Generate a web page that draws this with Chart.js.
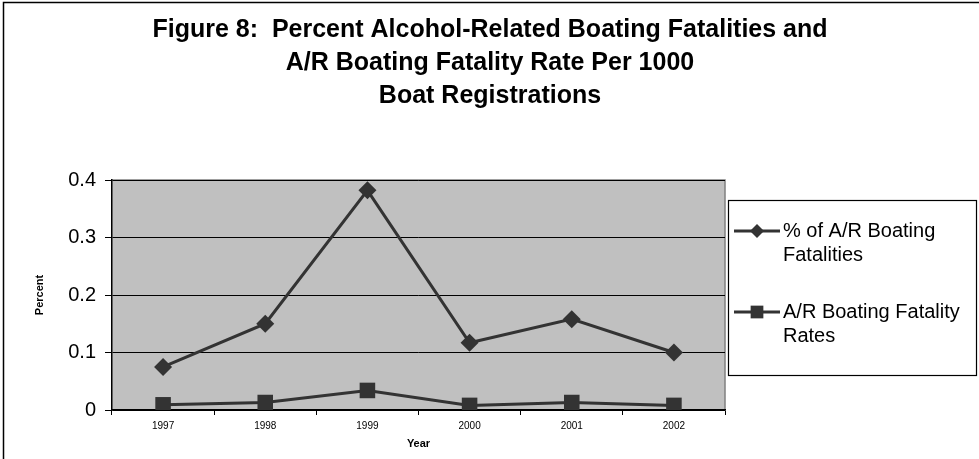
<!DOCTYPE html>
<html>
<head>
<meta charset="utf-8">
<script src="https://cdn.jsdelivr.net/npm/chart.js@4.4.0/dist/chart.umd.min.js"></script>
<style>
  html, body { margin: 0; padding: 0; background: #fff; }
  #wrap { width: 979px; height: 459px; }
</style>
</head>
<body>
<div id="wrap"><canvas id="boatingChart" width="979" height="459"></canvas></div>
<script>
const years = ['1997', '1998', '1999', '2000', '2001', '2002'];
const pctFatalities = [0.075, 0.15, 0.382, 0.117, 0.158, 0.1];
const fatalityRates = [0.009, 0.013, 0.034, 0.008, 0.013, 0.008];
const yMin = 0;
const yMax = 0.4;
const yStep = 0.1;
const titleLines = [
  'Figure 8:  Percent Alcohol-Related Boating Fatalities and',
  'A/R Boating Fatality Rate Per 1000',
  'Boat Registrations'
];
const seriesNames = [['% of A/R Boating', 'Fatalities'], ['A/R Boating Fatality', 'Rates']];

const FONT = '"Liberation Sans", Arial, sans-serif';
const INK = '#333333';

// background, outer frame, gray plot area, title and boxed legend
const framePlugin = {
  id: 'frame',
  beforeDraw(chart) {
    const { ctx, chartArea: a } = chart;
    ctx.save();
    ctx.fillStyle = '#fff';
    ctx.fillRect(0, 0, chart.width, chart.height);
    ctx.strokeStyle = '#000';
    ctx.lineWidth = 1.5;
    ctx.beginPath();
    ctx.moveTo(3.5, chart.height);
    ctx.lineTo(3.5, 2.5);
    ctx.lineTo(chart.width, 2.5);
    ctx.stroke();
    ctx.fillStyle = '#c0c0c0';
    ctx.fillRect(a.left, a.top, a.right - a.left, a.bottom - a.top);
    ctx.strokeStyle = '#808080';
    ctx.lineWidth = 1.5;
    ctx.beginPath();
    ctx.moveTo(a.left, a.top);
    ctx.lineTo(a.right, a.top);
    ctx.lineTo(a.right, a.bottom);
    ctx.stroke();
    ctx.restore();
  },
  afterDraw(chart) {
    const { ctx } = chart;
    ctx.save();
    ctx.fillStyle = '#000';
    ctx.textAlign = 'center';
    ctx.textBaseline = 'middle';
    ctx.font = 'bold 25px ' + FONT;
    titleLines.forEach((t, i) => ctx.fillText(t, 490, 30 + i * 33));

    // legend box
    const box = { x: 728.5, y: 200.5, w: 248, h: 175 };
    ctx.strokeStyle = '#000';
    ctx.lineWidth = 1.2;
    ctx.strokeRect(box.x, box.y, box.w, box.h);
    ctx.font = '20px ' + FONT;
    ctx.textAlign = 'left';
    chart.data.datasets.forEach((ds, i) => {
      const y = 231 + i * 81;
      ctx.strokeStyle = ds.borderColor;
      ctx.lineWidth = ds.borderWidth;
      ctx.beginPath();
      ctx.moveTo(734, y);
      ctx.lineTo(780, y);
      ctx.stroke();
      ctx.fillStyle = ds.pointBackgroundColor;
      Chart.helpers.drawPoint(ctx, {
        pointStyle: ds.pointStyle,
        radius: ds.legendRadius,
        rotation: 0,
        borderWidth: 0
      }, 757, y);
      ctx.fillStyle = '#000';
      seriesNames[i].forEach((line, j) => ctx.fillText(line, 783, y + j * 24));
    });
    ctx.restore();
  }
};

new Chart(document.getElementById('boatingChart'), {
  type: 'line',
  data: {
    labels: years,
    datasets: [
      {
        label: seriesNames[0].join(' '),
        data: pctFatalities,
        borderColor: INK,
        borderWidth: 3,
        pointStyle: 'rectRot',
        pointRadius: 9,
        legendRadius: 7,
        pointBackgroundColor: INK,
        pointBorderColor: INK,
        pointBorderWidth: 0,
        tension: 0
      },
      {
        label: seriesNames[1].join(' '),
        data: fatalityRates,
        borderColor: INK,
        borderWidth: 3,
        pointStyle: 'rect',
        pointRadius: 11,
        legendRadius: 9,
        pointBackgroundColor: INK,
        pointBorderColor: INK,
        pointBorderWidth: 0,
        tension: 0
      }
    ]
  },
  options: {
    responsive: false,
    animation: false,
    layout: { padding: { left: 0, top: 180, right: 254, bottom: 0 } },
    plugins: {
      legend: { display: false },
      title: { display: false },
      tooltip: { enabled: false }
    },
    scales: {
      x: {
        type: 'category',
        offset: true,
        grid: { drawOnChartArea: false, drawTicks: true, tickLength: 5, color: '#000', offset: true },
        border: { color: '#000', width: 1.5 },
        ticks: { color: '#000', font: { family: FONT, size: 10 }, padding: 5, maxRotation: 0 },
        title: { display: true, text: 'Year', color: '#000', font: { family: FONT, size: 11, weight: 'bold' }, padding: { top: 0, bottom: 8 } },
        afterFit: (s) => { s.height = 49; }
      },
      y: {
        min: yMin,
        max: yMax,
        grid: { color: '#000', lineWidth: 1, tickLength: 7 },
        border: { color: '#000', width: 1.5 },
        ticks: { stepSize: yStep, color: '#000', font: { family: FONT, size: 20 }, padding: 9 },
        title: { display: true, text: 'Percent', color: '#000', font: { family: FONT, size: 11, weight: 'bold' }, padding: { top: 33, bottom: 0 } },
        afterFit: (s) => { s.width = 112; }
      }
    }
  },
  plugins: [framePlugin]
});
</script>
</body>
</html>
